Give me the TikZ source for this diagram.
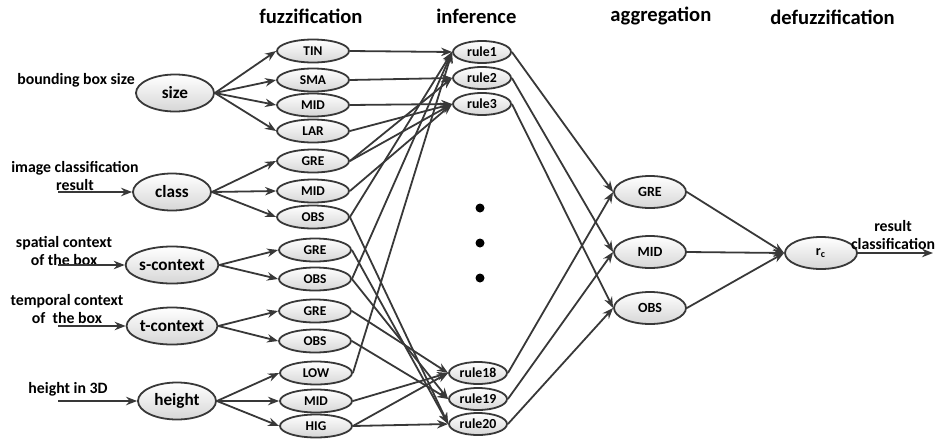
\documentclass[tikz,border=0pt]{standalone}
\usepackage{fontspec}
\setmainfont{Carlito}
\usetikzlibrary{arrows.meta,shapes.geometric}
\begin{document}
\begin{tikzpicture}[x=0.5pt,y=-0.5pt,
  ln/.style={draw=black!78, line width=0.9pt},
  arr/.style={ln,-{Stealth[length=5.5pt,width=4.2pt]}},
  ellbase/.style={ellipse, draw=black!78, line width=0.9pt, top color=white, bottom color=black!16, inner sep=0pt, font=\bfseries},
  innode/.style={ellbase, minimum width=39pt, minimum height=18.5pt, font=\fontsize{8.6}{10}\selectfont\bfseries},
  fznode/.style={ellbase, minimum width=36pt, minimum height=11.5pt, font=\fontsize{6.7}{8}\selectfont\bfseries},
  rlnode/.style={ellbase, minimum width=29pt, minimum height=11pt, font=\fontsize{6.9}{8}\selectfont\bfseries},
  agnode/.style={ellbase, minimum width=36pt, minimum height=16pt, font=\fontsize{7}{8}\selectfont\bfseries},
  title/.style={anchor=west, inner sep=0pt, font=\fontsize{10.3}{12}\selectfont\bfseries},
  lbl/.style={align=center, inner sep=0pt, font=\fontsize{7.9}{8.6}\selectfont\bfseries},
  dot/.style={circle, fill=black, inner sep=0pt, minimum size=4.5pt}
]
\useasboundingbox (0,0) rectangle (935,439);

% titles
\node[title] (t1) at (259,16) {fuzzification};
\node[title] (t2) at (436,16) {inference};
\node[title] (t3) at (610,16) {aggregation};
\node[title] (t4) at (770,17) {defuzzification};

% input labels
\node[lbl] (l1) at (76,80) {bounding box size};
\node[lbl] (l2) at (75,176) {image classification\\result};
\node[lbl] (l3) at (64,251) {spatial context\\of the box};
\node[lbl] (l4) at (67,309) {temporal context\\of\ \ the box};
\node[lbl] (l5) at (68,389) {height in 3D};

\coordinate (s2) at (58,192);
\coordinate (s3) at (58,265);
\coordinate (s4) at (58,326);
\coordinate (s5) at (58,401);

% input nodes
\node[innode] (size) at (175,93) {size};
\node[innode] (class) at (172,192) {class};
\node[innode] (sctx) at (172,265) {s-context};
\node[innode] (tctx) at (172,326) {t-context};
\node[innode] (hgt) at (177,401) {height};

\draw[arr] (s2) -- (class.west);
\draw[arr] (s3) -- (sctx.west);
\draw[arr] (s4) -- (tctx.west);
\draw[arr] (s5) -- (hgt.west);

% fuzzification nodes
\node[fznode] (tin) at (313,51) {TIN};
\node[fznode] (sma) at (313,80) {SMA};
\node[fznode] (mids) at (313,105) {MID};
\node[fznode] (lar) at (313,131) {LAR};
\node[fznode] (grec) at (313,161) {GRE};
\node[fznode] (midc) at (313,191) {MID};
\node[fznode] (obsc) at (313,217) {OBS};
\node[fznode] (gres) at (315,250) {GRE};
\node[fznode] (obss) at (315,279) {OBS};
\node[fznode] (gret) at (315,311) {GRE};
\node[fznode] (obst) at (315,341) {OBS};
\node[fznode] (low) at (316,373) {LOW};
\node[fznode] (midh) at (316,401) {MID};
\node[fznode] (hig) at (316,426) {HIG};

\foreach \t in {tin,sma,mids,lar} \draw[arr] (size.east) -- (\t.west);
\foreach \t in {grec,midc,obsc} \draw[arr] (class.east) -- (\t.west);
\foreach \t in {gres,obss} \draw[arr] (sctx.east) -- (\t.west);
\foreach \t in {gret,obst} \draw[arr] (tctx.east) -- (\t.west);
\foreach \t in {low,midh,hig} \draw[arr] (hgt.east) -- (\t.west);

% rule nodes
\node[rlnode] (r1) at (482,52) {rule1};
\node[rlnode] (r2) at (482,78) {rule2};
\node[rlnode] (r3) at (482,104) {rule3};
\node[rlnode] (r18) at (478,373) {rule18};
\node[rlnode] (r19) at (478,399) {rule19};
\node[rlnode] (r20) at (478,424) {rule20};

\node[dot] (d1) at (480,208) {};
\node[dot] (d2) at (480,243) {};
\node[dot] (d3) at (480,278) {};

% fuzzification -> rules
\foreach \f/\r in {tin/r1, sma/r2, mids/r3, lar/r3, grec/r2, grec/r3, midc/r3, obsc/r1, obss/r1, low/r1,
                   obsc/r20, gres/r20, obss/r19, gret/r18, obst/r19, midh/r18, hig/r18, hig/r20}
  \draw[arr] (\f.east) -- (\r.west);

% aggregation nodes
\node[agnode] (ag) at (650,192) {GRE};
\node[agnode] (am) at (650,252) {MID};
\node[agnode] (ao) at (650,308) {OBS};

\foreach \r/\a in {r1/ag, r2/am, r3/ao, r18/ag, r19/am, r20/ao}
  \draw[arr] (\r.east) -- (\a.west);

% defuzzification
\node[agnode] (rc) at (821,253) {r\textsubscript{c}};
\foreach \a in {ag,am,ao} \draw[arr] (\a.east) -- (rc.west);
\coordinate (out) at (933,253);
\draw[arr] (rc.east) -- (out);
\node[lbl] (lo) at (893,235) {result\\classification};
\end{tikzpicture}
\end{document}
